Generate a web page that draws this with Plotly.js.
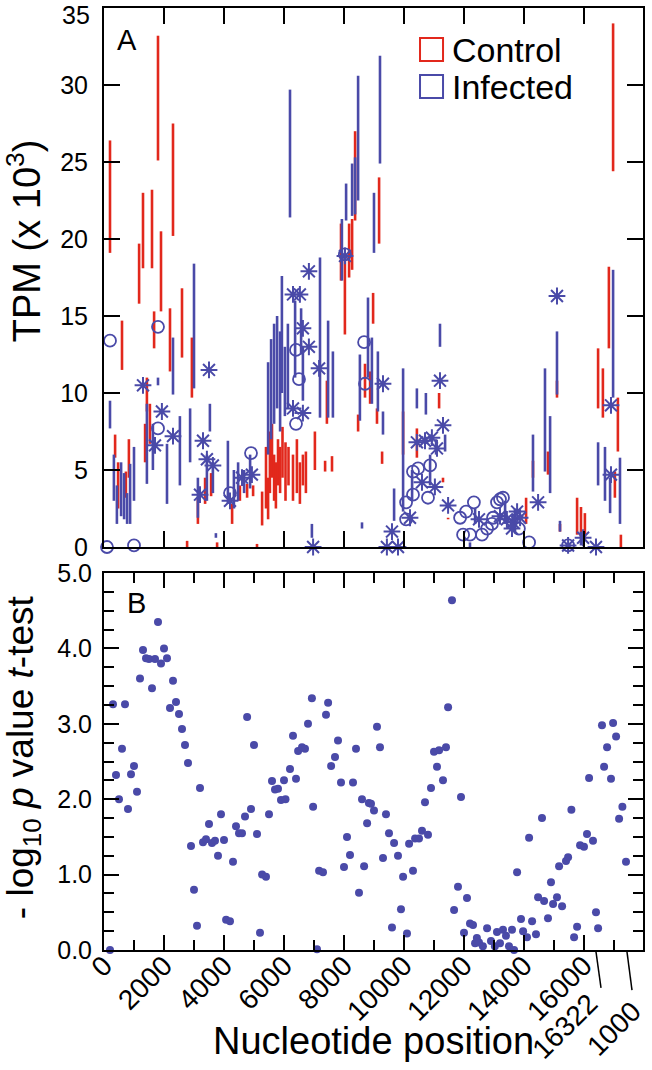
<!DOCTYPE html>
<html><head><meta charset="utf-8">
<script src="https://cdn.plot.ly/plotly-3.0.1.min.js"></script>
<style>html,body{margin:0;padding:0;background:#fff}</style>
</head><body>
<div id="chart" style="width:652px;height:1070px"></div>
<script>
// ---- Panel A: TPM ranges (x 10^3) per position ----
const ctrlX  = [200,370,470,600,730,830,1170,1300,1370,1430,1530,1600,1670,1800,1900,2200,2300,2600,2770,2930,3130,3370,3570,3770,4270,4530,4770,4970,5100,5270,5400,5470,5530,5600,5670,5730,5800,5870,5950,6050,6150,6300,6430,6530,6630,6730,7030,7370,7430,7600,7900,8030,8170,8270,8370,8470,8700,8870,8970,9100,9170,9270,9970,10430,11170,11300,11470,14070,14300,14800,15100,15200,15770,15900,16030,16470,16630,16830,16970,17030,17130,17230];
const ctrlLo = [19.1,5.8,2.5,11.5,3.2,4.5,15.8,18.1,5.5,8.8,6.7,18.1,12.9,25.1,15.3,11.4,20.2,12.3,0,9.7,1.5,2.8,3.3,0,1.5,3.0,3.2,3.3,0,1.4,2.5,1.8,3.5,4.5,3.0,2.5,4.0,3.5,4.5,3.0,4.0,3.0,3.5,2.8,4.0,3.5,5.0,4.9,8.0,4.9,17.3,13.8,17.5,18.0,21.2,7.5,9.7,9.3,14.5,8.0,19.7,5.4,6.0,5.8,9.0,4.2,1.8,1.5,4.5,4.7,9.7,1.0,0.8,0.6,0.4,9.0,8.4,12.9,24.4,3.2,6.2,0];
const ctrlHi = [26.4,7.3,5.5,14.7,4.9,7.0,19.7,23.0,8.0,11.0,9.3,23.2,15.3,33.2,20.5,15.5,27.5,16.8,0.4,13.6,3.2,4.5,4.8,0.3,2.8,4.0,4.1,4.0,0.2,3.6,6.5,4.5,7.5,8.0,6.0,5.5,7.0,6.5,7.8,6.8,6.5,6.0,7.0,5.5,6.0,6.2,7.5,5.6,10.8,5.9,21.0,19.0,21.0,21.3,27.0,8.6,11.9,11.4,16.5,9.0,24.0,6.2,8.8,7.7,10.0,4.5,1.9,3.2,5.6,6.2,10.8,1.5,3.2,2.6,2.2,12.9,11.6,18.2,34.0,4.9,9.7,0.8];

const infX  = [200,330,430,570,670,770,870,1000,1430,1630,1800,2100,2300,2530,2870,3000,3130,3430,3530,3630,3730,4130,4330,4470,4670,4870,5470,5570,5670,5770,5870,5930,6030,6130,6200,6370,6570,6630,6930,7200,7470,7630,7930,8070,8270,8370,8470,8530,8600,8800,8930,9000,9130,9200,9300,9670,9970,10270,10430,10730,10870,11070,11200,11370,12200,12370,13370,13700,14300,14700,14870,15100,15200,15900,16470,16700,16870,16970,17200];
const infLo = [7.7,3.0,1.5,2.0,1.8,1.5,1.5,3.0,4.1,5.0,10.5,2.8,9.9,4.0,5.5,10.3,1.9,3.0,7.5,3.5,0.6,2.8,2.5,3.0,3.5,3.8,6.0,7.0,8.0,9.0,7.5,10.0,8.5,9.0,21.4,11.0,12.5,9.5,0.6,8.4,8.4,8.4,17.3,21.2,21.5,21.6,22.5,8.2,1.2,11.0,9.3,19.1,8.8,24.9,7.3,1.7,2.3,3.0,9.0,8.6,4.0,6.0,13.0,6.2,0,1.5,1.5,1.0,3.6,4.9,3.5,9.9,1.0,0.1,4.0,3.0,2.2,9.7,1.5];
const infHi = [9.5,6.0,4.0,5.5,4.8,3.5,5.4,6.5,9.3,8.0,11.0,6.7,13.6,8.5,9.0,18.4,4.5,6.0,9.3,5.5,0.9,6.9,5.0,5.5,5.0,6.0,12.0,13.5,14.5,15.0,14.0,17.6,13.0,14.5,29.7,16.0,15.5,13.0,1.5,18.8,14.7,12.7,21.3,23.6,24.9,25.3,30.6,12.5,1.6,16.2,13.6,23.0,12.7,31.9,8.8,3.8,11.6,5.0,10.3,10.0,6.0,7.0,14.5,7.3,0.3,2.5,3.0,2.5,7.3,11.6,8.5,14.0,1.7,1.0,6.8,6.5,4.5,18.0,5.8];

const starX = [1300,1930,1700,2300,3200,3300,3500,3430,3630,4200,4600,4930,6300,6530,6630,6830,6300,6630,7170,6970,6830,8033,9300,11200,11300,15100,16900,16900,14470,11470,10430,10700,10930,11100,10600,11030,10200,9600,9430,9800,12500,13200,13430,13630,13770,13870,13600,15470,16400,15970];
const starY = [10.5,8.8,6.6,7.2,3.4,6.9,11.5,5.7,5.3,3.0,4.5,4.7,16.4,16.4,14.2,13.0,9.0,8.7,11.6,0,17.9,18.9,10.6,10.8,7.9,16.3,9.2,4.7,2.9,2.7,6.8,6.9,7.1,6.4,4.2,3.9,1.9,1.0,0,0,1.8,2.0,1.8,1.6,2.3,1.9,1.2,0.1,0,0.6];

const circX = [200,100,1000,1800,1800,4200,4900,6400,6500,6400,8030,8670,8700,10300,10470,10870,10800,10300,10070,10070,11870,12070,12330,11970,12200,12600,12770,12930,12970,13100,13200,13300,13830,14170,15470];
const circY = [13.4,0,0.1,14.3,7.7,3.5,6.1,12.8,10.9,8.0,19.0,13.3,10.6,4.9,5.1,5.3,3.2,3.4,2.9,1.8,1.9,2.3,2.9,0.8,0.8,0.8,1.2,1.5,1.9,2.9,3.1,3.2,1.2,0.3,0.1];

// ---- Panel B: -log10 p ----
const pX = [200,300,400,500,600,700,800,900,1000,1100,1200,1300,1400,1500,1600,1700,1800,1900,2000,2100,2200,2300,2400,2500,2600,2700,2800,2900,3000,3100,3200,3300,3400,3500,3600,3700,3800,3900,4000,4070,4200,4300,4400,4500,4600,4700,4770,4900,5000,5100,5200,5270,5400,5500,5600,5700,5800,5900,6000,6050,6200,6300,6400,6470,6600,6700,6800,6930,6970,7100,7170,7300,7400,7470,7570,7700,7800,7900,8000,8100,8200,8300,8400,8500,8600,8670,8770,8830,8900,9000,9100,9200,9300,9400,9500,9600,9670,9800,9900,9970,10100,10170,10300,10370,10500,10600,10700,10800,10900,11000,11100,11170,11300,11400,11470,11600,11670,11800,11900,12000,12100,12200,12300,12370,12430,12500,12630,12770,12900,13030,13100,13200,13300,13400,13500,13600,13670,13770,13900,13970,14100,14170,14270,14400,14470,14600,14670,14800,14900,14970,15100,15170,15270,15400,15470,15580,15670,15770,15870,16000,16100,16170,16300,16400,16470,16600,16670,16770,16900,16970,17070,17170,17280,17400];
const pY = [0.0,3.26,2.32,2.0,2.67,3.26,1.87,2.33,2.44,2.1,3.6,3.98,3.87,3.86,3.47,3.86,4.35,3.8,4.0,3.87,3.21,3.57,3.29,3.13,2.93,2.72,2.48,1.38,0.8,0.32,2.15,1.43,1.47,1.67,1.42,1.45,1.25,1.8,1.46,0.4,0.38,1.17,1.64,1.55,1.55,1.77,3.09,1.87,2.72,1.54,0.23,1.0,0.97,1.8,2.24,2.13,2.14,1.99,2.25,2.0,2.4,2.84,2.27,2.64,2.69,2.67,3.0,3.34,1.9,0.01,1.05,1.03,3.12,3.28,2.44,2.56,2.78,2.22,1.1,1.5,1.26,2.22,2.67,0.76,2.0,1.11,1.68,1.95,1.94,1.85,2.96,2.69,1.22,1.8,1.55,0.3,1.42,1.25,0.54,0.97,0.22,1.41,1.05,1.48,1.48,1.58,1.96,1.53,2.15,2.63,2.43,2.65,2.25,2.69,3.22,4.64,0.53,0.84,2.03,0.23,0.69,0.35,0.33,0.09,0.16,0.1,0.05,0.29,0.12,0.05,0.24,0.09,0.27,0.19,0.05,0.27,0.0,1.03,0.41,0.25,0.17,1.49,0.38,0.21,0.7,1.75,0.65,0.42,0.9,0.61,0.7,1.11,0.58,1.18,1.23,1.86,0.17,0.31,1.39,1.37,1.54,2.28,1.45,0.5,0.29,2.98,2.43,2.69,2.27,3.01,2.83,1.74,1.9,1.17];

const xTickVals = [0,2000,4000,6000,8000,10000,12000,14000,16000];
const xTickText = ['0','2000','4000','6000','8000','10000','12000','14000','16000'];
const extraTickText = ['16322','1000'];
const yTickValsA = [0,5,10,15,20,25,30,35];
const yTickTextA = ['0','5','10','15','20','25','30',''];
const topTickLabelA = '35';

const RED = '#e2281c', BLUE = '#4a4aa8';

function segs(xs, lo, hi){
  const x=[], y=[];
  xs.forEach((v,i)=>{ x.push(v,v,null); y.push(lo[i],hi[i],null); });
  return {x,y};
}
const c = segs(ctrlX, ctrlLo, ctrlHi);
const inf = segs(infX, infLo, infHi);

const traces = [
  {x:c.x, y:c.y, mode:'lines', line:{color:RED, width:2.6}, xaxis:'x', yaxis:'y', showlegend:false, hoverinfo:'skip'},
  {x:inf.x, y:inf.y, mode:'lines', line:{color:BLUE, width:2.6}, xaxis:'x', yaxis:'y', showlegend:false, hoverinfo:'skip'},
  {x:circX, y:circY, mode:'markers', marker:{symbol:'circle-open', size:12, color:BLUE, line:{width:1.8, color:BLUE}}, xaxis:'x', yaxis:'y', showlegend:false, cliponaxis:false},
  {x:starX, y:starY, mode:'markers', marker:{symbol:'asterisk-open', size:14, color:BLUE, line:{width:2, color:BLUE}}, xaxis:'x', yaxis:'y', showlegend:false, cliponaxis:false},
  {x:pX, y:pY, mode:'markers', marker:{symbol:'circle', size:8, color:BLUE}, xaxis:'x2', yaxis:'y2', showlegend:false, cliponaxis:false}
];

const F = 'Liberation Sans, Arial, sans-serif';
const XMAX = 17967;
const TF = {family:F, size:25, color:'#000'};
const XTF = {family:F, size:28, color:'#000'};
const axCommon = {showline:true, linecolor:'#000', linewidth:2, mirror:'ticks', ticks:'inside', tickcolor:'#000', tickwidth:2, showgrid:false, zeroline:false, tickfont:TF};

const layout = {
  width:652, height:1070,
  margin:{l:104, r:9, t:8, b:120, pad:0},
  paper_bgcolor:'#fff', plot_bgcolor:'#fff',
  showlegend:false,
  xaxis: Object.assign({}, axCommon, {domain:[0,1], anchor:'y', range:[0,XMAX], tickvals:xTickVals, showticklabels:false, ticklen:16}),
  yaxis: Object.assign({}, axCommon, {domain:[0.4278,1], anchor:'x', range:[0,35], tickvals:yTickValsA, ticktext:yTickTextA, ticklen:16, ticklabelstandoff:9}),
  xaxis2: Object.assign({}, axCommon, {domain:[0,1], anchor:'y2', range:[0,XMAX], tickvals:xTickVals, ticktext:xTickText, tickangle:-45, tickfont:XTF, ticklen:15, ticklabelstandoff:-14,
     minor:{ticks:'inside', dtick:1000, tick0:0, ticklen:10, tickwidth:2, tickcolor:'#000'}}),
  yaxis2: Object.assign({}, axCommon, {domain:[0,0.4002], anchor:'x2', range:[0,5], dtick:1, tickformat:'.1f', ticklen:15, ticklabelstandoff:5,
     minor:{ticks:'inside', dtick:0.25, tick0:0, ticklen:10, tickwidth:2, tickcolor:'#000'}}),
  shapes:[
    {type:'rect', xref:'paper', yref:'paper', x0:0.5863, x1:0.629, y0:0.9437, y1:0.9682, line:{color:RED, width:2}},
    {type:'rect', xref:'paper', yref:'paper', x0:0.5863, x1:0.629, y0:0.9045, y1:0.9289, line:{color:BLUE, width:2}},
    {type:'line', xref:'paper', yref:'paper', x0:0.9128, y0:-0.002, x1:0.9221, y1:-0.0403, line:{color:'#000', width:1.5}},
    {type:'line', xref:'paper', yref:'paper', x0:0.9703, y0:-0.002, x1:0.9796, y1:-0.0425, line:{color:'#000', width:1.5}}
  ],
  annotations:[
    {text:topTickLabelA, xref:'paper', yref:'paper', x:-0.0223, y:0.9926, xanchor:'right', yanchor:'middle', showarrow:false, font:TF},
    {text:'A', xref:'paper', yref:'paper', x:0.0427, y:0.966, xanchor:'center', yanchor:'middle', showarrow:false, font:{family:F, size:29, color:'#000'}},
    {text:'B', xref:'paper', yref:'paper', x:0.0594, y:0.3684, xanchor:'center', yanchor:'middle', showarrow:false, font:{family:F, size:29, color:'#000'}},
    {text:'Control', xref:'paper', yref:'paper', x:0.642, y:0.9554, xanchor:'left', yanchor:'middle', showarrow:false, font:{family:F, size:34, color:'#000'}},
    {text:'Infected', xref:'paper', yref:'paper', x:0.642, y:0.9161, xanchor:'left', yanchor:'middle', showarrow:false, font:{family:F, size:34, color:'#000'}},
    {text:'TPM (x 10<sup>3</sup>)', xref:'paper', yref:'paper', x:-0.148, y:0.7527, xanchor:'center', yanchor:'middle', textangle:-90, showarrow:false, font:{family:F, size:38, color:'#000'}},
    {text:'- log<sub>10</sub> <i>p</i> value <i>t</i>-test', xref:'paper', yref:'paper', x:-0.150, y:0.2049, xanchor:'center', yanchor:'middle', textangle:-90, showarrow:false, font:{family:F, size:37, color:'#000'}},
    {text:'Nucleotide position', xref:'paper', yref:'paper', x:0.5, y:-0.0965, xanchor:'center', yanchor:'middle', showarrow:false, font:{family:F, size:38, color:'#000'}},
    {text:extraTickText[0], xref:'paper', yref:'paper', x:0.9314, y:-0.0372, xanchor:'right', yanchor:'top', textangle:-45, showarrow:false, font:XTF},
    {text:extraTickText[1], xref:'paper', yref:'paper', x:1.013, y:-0.0456, xanchor:'right', yanchor:'top', textangle:-45, showarrow:false, font:XTF}
  ]
};

Plotly.newPlot('chart', traces, layout, {staticPlot:true, displayModeBar:false});
</script>
</body></html>
